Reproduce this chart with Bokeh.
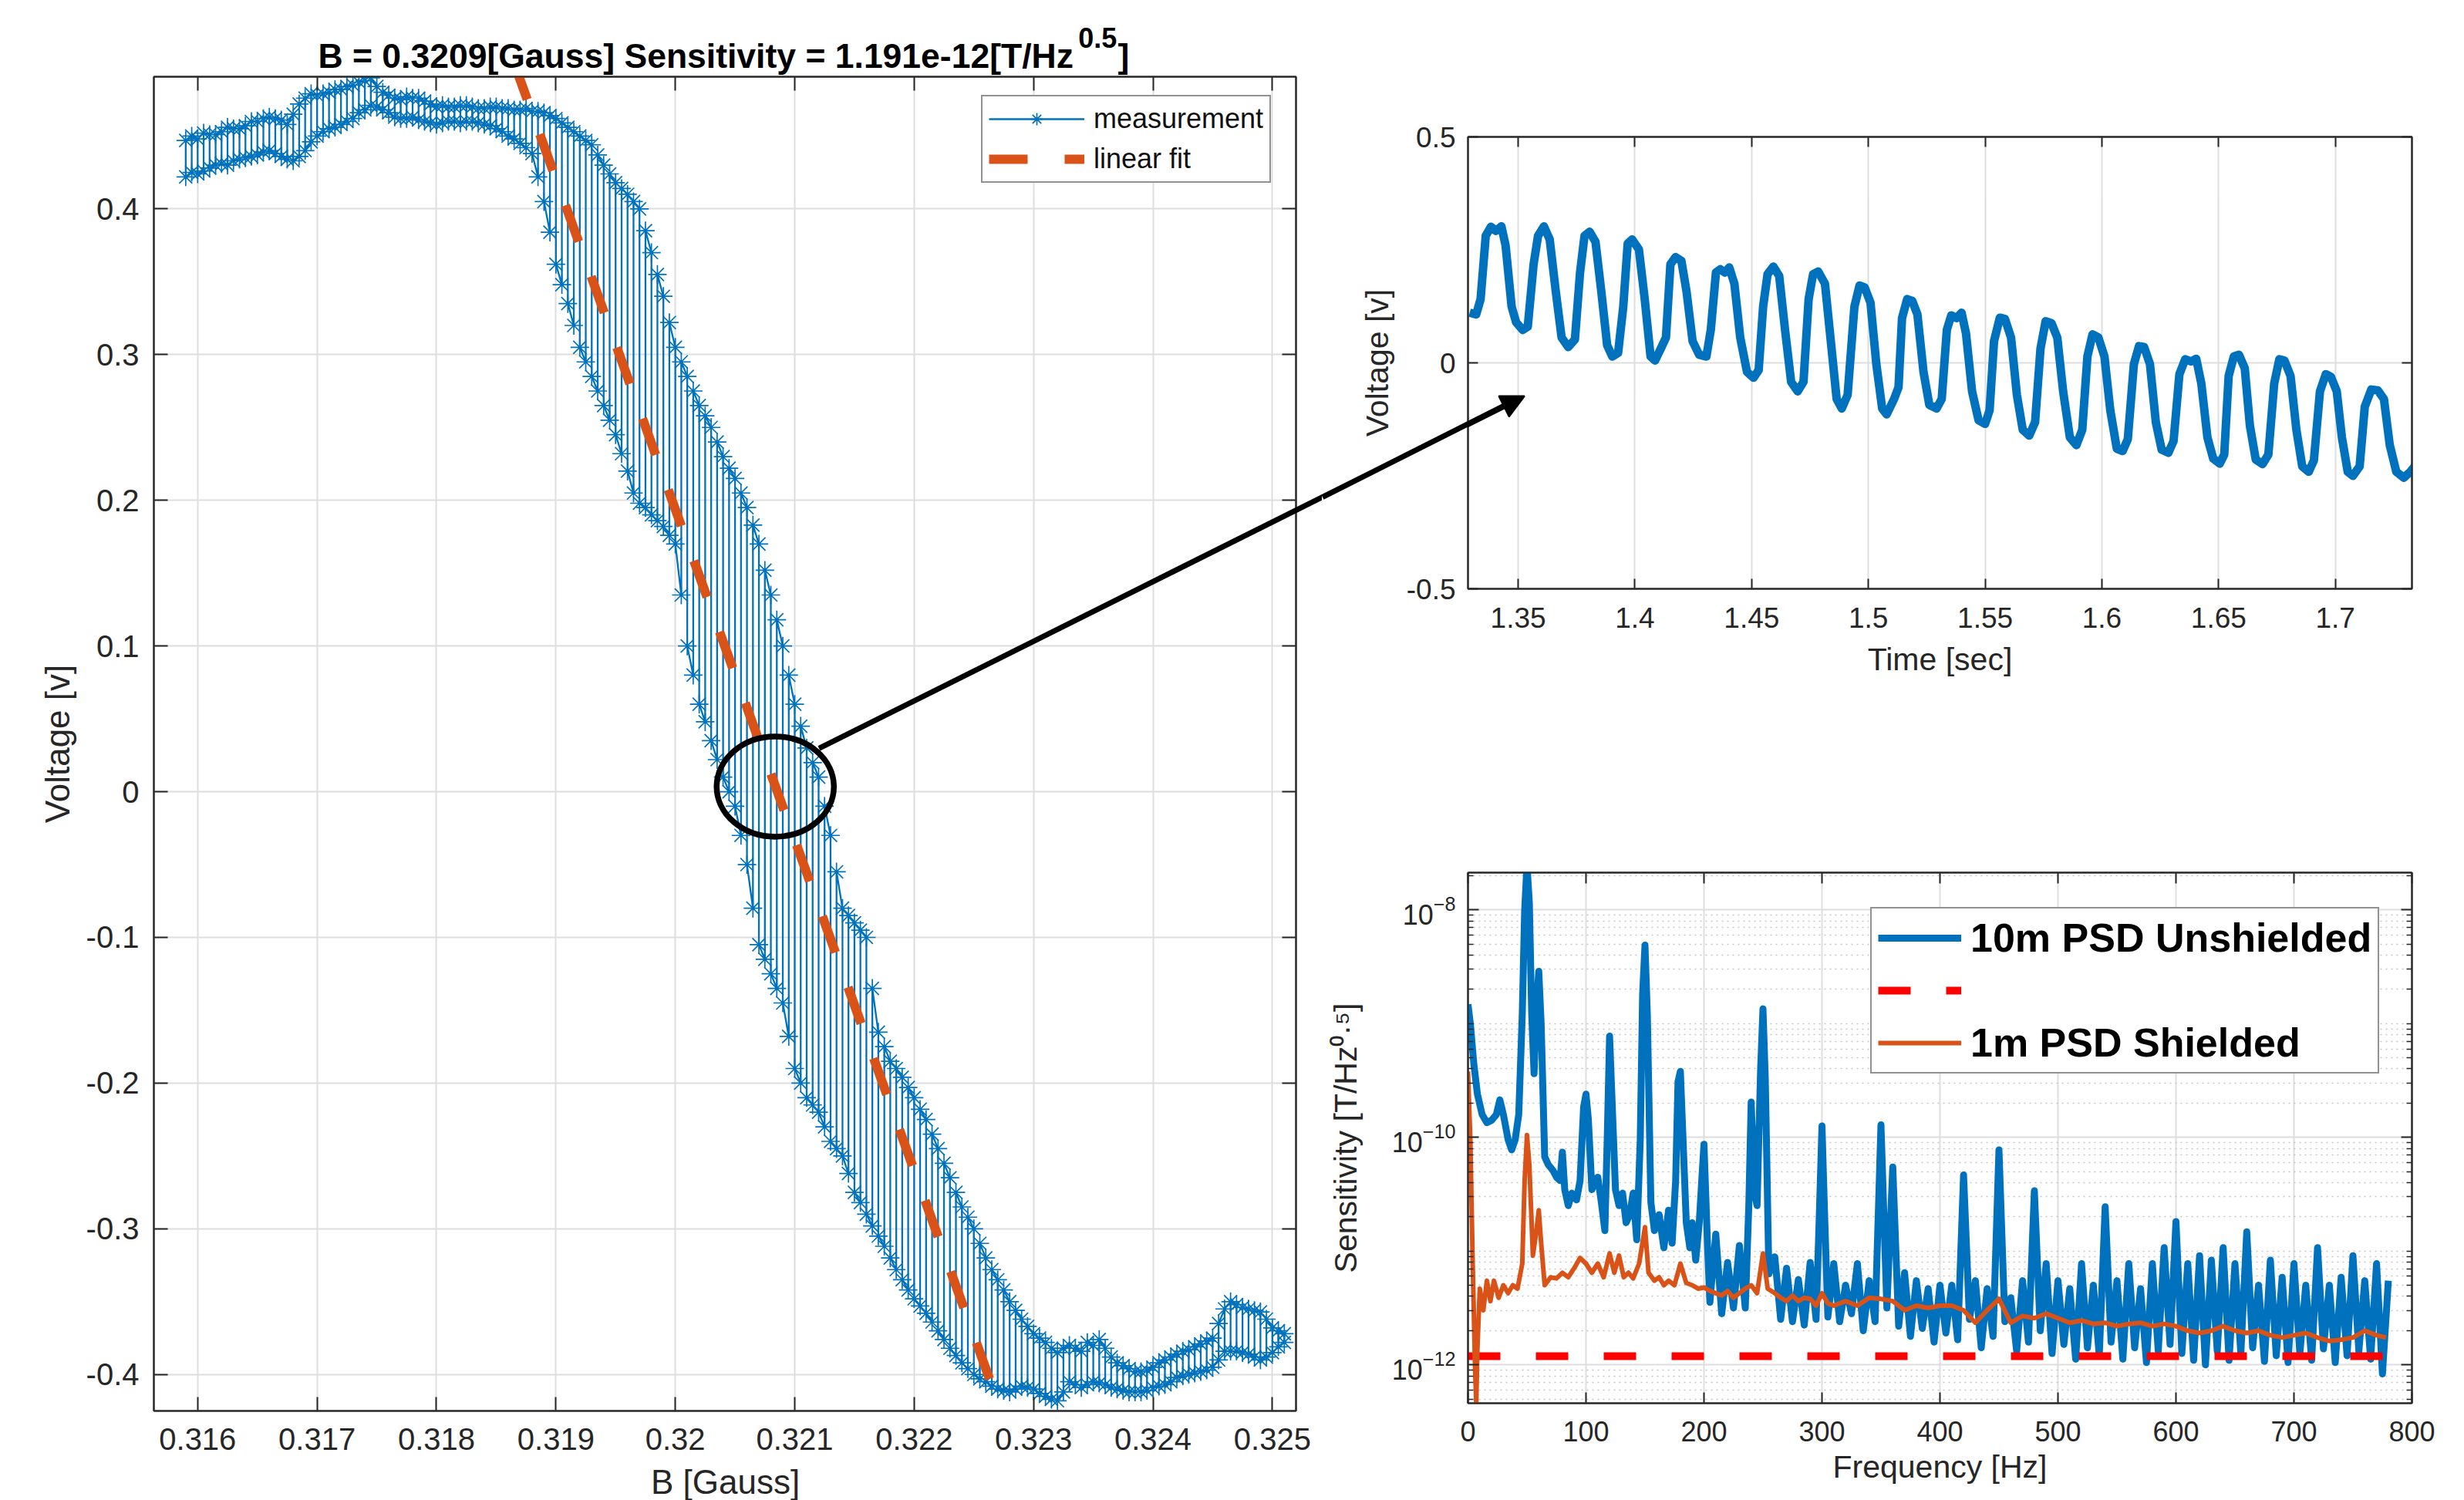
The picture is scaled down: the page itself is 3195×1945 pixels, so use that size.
import numpy as np
from bokeh.plotting import figure
from bokeh.models import (Range1d, LinearAxis, LogAxis, FixedTicker, Arrow,
                          NormalHead, Legend, LegendItem)
from bokeh.layouts import row, column
from bokeh.embed import file_html
from bokeh.resources import INLINE
from bokeh.core.properties import value

FONT = "Liberation Sans"
AXC = "#262626"
GRIDC = "#dedede"
BLUE = "#0072BD"
ORANGE = "#D95319"
RED = "#FF0000"

# ---------------- data: left panel (voltage vs B sweep) ----------------
b_gauss = [
    0.31590, 0.31595, 0.31600, 0.31605, 0.31610, 0.31615, 0.31620, 0.31625, 0.31630, 0.31635,
    0.31640, 0.31645, 0.31650, 0.31655, 0.31660, 0.31665, 0.31670, 0.31675, 0.31680, 0.31685,
    0.31690, 0.31695, 0.31700, 0.31705, 0.31710, 0.31715, 0.31720, 0.31725, 0.31730, 0.31735,
    0.31740, 0.31745, 0.31750, 0.31755, 0.31760, 0.31765, 0.31770, 0.31775, 0.31780, 0.31785,
    0.31790, 0.31795, 0.31800, 0.31805, 0.31810, 0.31815, 0.31820, 0.31825, 0.31830, 0.31835,
    0.31840, 0.31845, 0.31850, 0.31855, 0.31860, 0.31865, 0.31870, 0.31875, 0.31880, 0.31885,
    0.31890, 0.31895, 0.31900, 0.31905, 0.31910, 0.31915, 0.31920, 0.31925, 0.31930, 0.31935,
    0.31940, 0.31945, 0.31950, 0.31955, 0.31960, 0.31965, 0.31970, 0.31975, 0.31980, 0.31985,
    0.31990, 0.31995, 0.32000, 0.32005, 0.32010, 0.32015, 0.32020, 0.32025, 0.32030, 0.32035,
    0.32040, 0.32045, 0.32050, 0.32055, 0.32060, 0.32065, 0.32070, 0.32075, 0.32080, 0.32085,
    0.32090, 0.32095, 0.32100, 0.32105, 0.32110, 0.32115, 0.32120, 0.32125, 0.32130, 0.32135,
    0.32140, 0.32145, 0.32150, 0.32155, 0.32160, 0.32165, 0.32170, 0.32175, 0.32180, 0.32185,
    0.32190, 0.32195, 0.32200, 0.32205, 0.32210, 0.32215, 0.32220, 0.32225, 0.32230, 0.32235,
    0.32240, 0.32245, 0.32250, 0.32255, 0.32260, 0.32265, 0.32270, 0.32275, 0.32280, 0.32285,
    0.32290, 0.32295, 0.32300, 0.32305, 0.32310, 0.32315, 0.32320, 0.32325, 0.32330, 0.32335,
    0.32340, 0.32345, 0.32350, 0.32355, 0.32360, 0.32365, 0.32370, 0.32375, 0.32380, 0.32385,
    0.32390, 0.32395, 0.32400, 0.32405, 0.32410, 0.32415, 0.32420, 0.32425, 0.32430, 0.32435,
    0.32440, 0.32445, 0.32450, 0.32455, 0.32460, 0.32465, 0.32470, 0.32475, 0.32480, 0.32485,
    0.32490, 0.32495, 0.32500, 0.32505, 0.32510]
v_top = [
    0.447, 0.450, 0.448, 0.452, 0.451, 0.451, 0.453, 0.456, 0.455, 0.455,
    0.457, 0.460, 0.460, 0.462, 0.463, 0.462, 0.461, 0.458, 0.465, 0.472,
    0.476, 0.479, 0.478, 0.479, 0.480, 0.482, 0.482, 0.484, 0.485, 0.487,
    0.488, 0.490, 0.484, 0.480, 0.478, 0.476, 0.475, 0.477, 0.476, 0.476,
    0.474, 0.472, 0.470, 0.471, 0.470, 0.470, 0.471, 0.471, 0.470, 0.469,
    0.469, 0.470, 0.470, 0.469, 0.469, 0.468, 0.468, 0.469, 0.467, 0.467,
    0.466, 0.464, 0.462, 0.459, 0.456, 0.453, 0.450, 0.447, 0.444, 0.437,
    0.430, 0.424, 0.418, 0.414, 0.410, 0.405, 0.400, 0.385, 0.370, 0.355,
    0.340, 0.322, 0.305, 0.295, 0.285, 0.275, 0.265, 0.258, 0.250, 0.240,
    0.230, 0.222, 0.215, 0.205, 0.195, 0.183, 0.170, 0.152, 0.135, 0.118,
    0.100, 0.080, 0.060, 0.045, 0.030, 0.020, 0.010, -0.010, -0.030, -0.055,
    -0.080, -0.085, -0.090, -0.095, -0.100, -0.135, -0.165, -0.175, -0.185, -0.190,
    -0.196, -0.203, -0.210, -0.218, -0.225, -0.235, -0.245, -0.255, -0.265, -0.275,
    -0.285, -0.292, -0.300, -0.310, -0.320, -0.328, -0.335, -0.342, -0.350, -0.356,
    -0.362, -0.367, -0.372, -0.375, -0.378, -0.382, -0.385, -0.382, -0.380, -0.382,
    -0.384, -0.378, -0.380, -0.376, -0.382, -0.388, -0.392, -0.394, -0.396, -0.398,
    -0.398, -0.397, -0.395, -0.392, -0.390, -0.388, -0.386, -0.384, -0.383, -0.381,
    -0.379, -0.377, -0.375, -0.365, -0.355, -0.350, -0.352, -0.354, -0.355, -0.356,
    -0.357, -0.362, -0.368, -0.370, -0.372]
v_bot = [
    0.422, 0.425, 0.424, 0.426, 0.428, 0.430, 0.431, 0.430, 0.433, 0.434,
    0.435, 0.436, 0.437, 0.439, 0.440, 0.438, 0.436, 0.434, 0.433, 0.436,
    0.440, 0.446, 0.450, 0.453, 0.455, 0.456, 0.458, 0.460, 0.462, 0.466,
    0.468, 0.471, 0.470, 0.468, 0.466, 0.463, 0.462, 0.462, 0.463, 0.461,
    0.460, 0.459, 0.458, 0.459, 0.460, 0.460, 0.459, 0.460, 0.460, 0.459,
    0.458, 0.457, 0.455, 0.453, 0.450, 0.448, 0.445, 0.442, 0.438, 0.422,
    0.405, 0.384, 0.362, 0.348, 0.335, 0.320, 0.305, 0.295, 0.285, 0.275,
    0.265, 0.255, 0.245, 0.232, 0.220, 0.205, 0.198, 0.195, 0.190, 0.186,
    0.182, 0.176, 0.170, 0.135, 0.100, 0.080, 0.060, 0.048, 0.035, 0.022,
    0.010, 0.000, -0.010, -0.030, -0.050, -0.080, -0.105, -0.115, -0.125, -0.135,
    -0.145, -0.168, -0.190, -0.200, -0.210, -0.215, -0.220, -0.230, -0.240, -0.245,
    -0.250, -0.262, -0.275, -0.282, -0.290, -0.298, -0.305, -0.312, -0.320, -0.328,
    -0.335, -0.342, -0.348, -0.353, -0.358, -0.364, -0.370, -0.376, -0.382, -0.387,
    -0.392, -0.396, -0.400, -0.403, -0.405, -0.408, -0.410, -0.411, -0.412, -0.410,
    -0.408, -0.409, -0.410, -0.413, -0.415, -0.417, -0.418, -0.412, -0.405, -0.407,
    -0.409, -0.407, -0.405, -0.406, -0.407, -0.409, -0.410, -0.411, -0.412, -0.412,
    -0.412, -0.411, -0.409, -0.408, -0.407, -0.405, -0.402, -0.401, -0.400, -0.399,
    -0.398, -0.397, -0.395, -0.390, -0.384, -0.384, -0.384, -0.385, -0.386, -0.388,
    -0.390, -0.388, -0.385, -0.381, -0.378]
fit_b = [0.31865, 0.32264]
fit_v = [0.500, -0.405]
b_ticks = [0.316, 0.317, 0.318, 0.319, 0.32, 0.321, 0.322, 0.323, 0.324, 0.325]
b_tick_labels = ["0.316", "0.317", "0.318", "0.319", "0.32", "0.321", "0.322", "0.323", "0.324", "0.325"]
v_ticks = [-0.4, -0.3, -0.2, -0.1, 0, 0.1, 0.2, 0.3, 0.4]
v_tick_labels = ["-0.4", "-0.3", "-0.2", "-0.1", "0", "0.1", "0.2", "0.3", "0.4"]
title_main = "B = 0.3209[Gauss] Sensitivity = 1.191e-12[T/Hz"
title_sup = "0.5"
title_end = "]"

# ---------------- data: top-right panel (voltage vs time) ----------------
time_sec = [1.3292, 1.3320, 1.3339, 1.3361, 1.3383, 1.3405, 1.3428, 1.3446, 1.3472, 1.3491,
            1.3519, 1.3541, 1.3566, 1.3585, 1.3610, 1.3635, 1.3661, 1.3686, 1.3714, 1.3743,
            1.3765, 1.3784, 1.3806, 1.3831, 1.3856, 1.3881, 1.3903, 1.3928, 1.3950, 1.3969,
            1.3988, 1.4017, 1.4042, 1.4067, 1.4086, 1.4114, 1.4133, 1.4152, 1.4174, 1.4199,
            1.4221, 1.4247, 1.4275, 1.4306, 1.4325, 1.4347, 1.4366, 1.4385, 1.4404, 1.4426,
            1.4451, 1.4480, 1.4508, 1.4530, 1.4549, 1.4568, 1.4593, 1.4618, 1.4643, 1.4669,
            1.4697, 1.4722, 1.4744, 1.4763, 1.4785, 1.4814, 1.4839, 1.4864, 1.4886, 1.4911,
            1.4940, 1.4962, 1.4984, 1.5009, 1.5034, 1.5059, 1.5078, 1.5110, 1.5129, 1.5144,
            1.5166, 1.5188, 1.5210, 1.5236, 1.5261, 1.5292, 1.5314, 1.5336, 1.5355, 1.5377,
            1.5399, 1.5418, 1.5444, 1.5472, 1.5500, 1.5519, 1.5538, 1.5563, 1.5585, 1.5611,
            1.5636, 1.5661, 1.5689, 1.5714, 1.5737, 1.5759, 1.5784, 1.5809, 1.5834, 1.5863,
            1.5891, 1.5916, 1.5938, 1.5960, 1.5985, 1.6011, 1.6036, 1.6064, 1.6089, 1.6111,
            1.6137, 1.6159, 1.6181, 1.6206, 1.6231, 1.6256, 1.6285, 1.6307, 1.6332, 1.6357,
            1.6382, 1.6404, 1.6426, 1.6452, 1.6477, 1.6505, 1.6524, 1.6543, 1.6565, 1.6587,
            1.6612, 1.6634, 1.6659, 1.6688, 1.6713, 1.6738, 1.6760, 1.6782, 1.6808, 1.6833,
            1.6858, 1.6886, 1.6908, 1.6934, 1.6959, 1.6981, 1.7006, 1.7028, 1.7053, 1.7075,
            1.7104, 1.7126, 1.7154, 1.7182, 1.7208, 1.7233, 1.7261, 1.7293, 1.7321, 1.7340]
time_volt = [0.111, 0.107, 0.141, 0.281, 0.301, 0.292, 0.302, 0.260, 0.124, 0.090,
             0.073, 0.080, 0.218, 0.281, 0.302, 0.273, 0.158, 0.056, 0.035, 0.052,
             0.200, 0.281, 0.290, 0.268, 0.158, 0.039, 0.014, 0.022, 0.124, 0.264,
             0.273, 0.251, 0.141, 0.014, 0.005, 0.035, 0.056, 0.218, 0.234, 0.226,
             0.158, 0.048, 0.018, 0.014, 0.073, 0.200, 0.207, 0.200, 0.211, 0.175,
             0.056, -0.020, -0.033, -0.016, 0.124, 0.196, 0.213, 0.192, 0.073, -0.042,
             -0.063, -0.042, 0.141, 0.196, 0.202, 0.175, 0.048, -0.080, -0.101, -0.071,
             0.124, 0.171, 0.167, 0.133, -0.003, -0.101, -0.114, -0.080, -0.054, 0.099,
             0.141, 0.137, 0.107, -0.020, -0.093, -0.101, -0.080, 0.073, 0.105, 0.099,
             0.111, 0.065, -0.063, -0.127, -0.135, -0.105, 0.048, 0.100, 0.097, 0.056,
             -0.071, -0.148, -0.161, -0.131, 0.031, 0.092, 0.088, 0.056, -0.063, -0.165,
             -0.182, -0.148, 0.014, 0.063, 0.056, 0.014, -0.105, -0.190, -0.195, -0.169,
             -0.003, 0.037, 0.035, -0.003, -0.131, -0.192, -0.199, -0.173, -0.025, 0.008,
             0.003, 0.009, -0.046, -0.165, -0.212, -0.223, -0.203, -0.029, 0.014, 0.018,
             -0.012, -0.139, -0.214, -0.224, -0.203, -0.046, 0.008, 0.005, -0.029, -0.148,
             -0.229, -0.241, -0.216, -0.063, -0.025, -0.031, -0.063, -0.165, -0.241, -0.250,
             -0.229, -0.097, -0.059, -0.061, -0.080, -0.182, -0.241, -0.254, -0.241, -0.229]
t_ticks = [1.35, 1.4, 1.45, 1.5, 1.55, 1.6, 1.65, 1.7]
t_tick_labels = ["1.35", "1.4", "1.45", "1.5", "1.55", "1.6", "1.65", "1.7"]

# ---------------- data: bottom-right panel (PSD), log10 of T/Hz^0.5 ----------------
psd_unshielded = [
    (0, -8.83), (2, -9.00), (5, -9.36), (8, -9.62), (12, -9.80), (16, -9.87), (20, -9.85),
    (24, -9.80), (27, -9.67), (30, -9.80), (34, -10.02), (37, -10.11), (40, -10.02), (43, -9.80),
    (46, -8.92), (48, -8.01), (50, -7.60), (52, -7.94), (54, -8.92), (56, -9.44), (58, -8.85),
    (60, -8.54), (62, -9.00), (65, -10.17), (68, -10.24), (72, -10.29), (75, -10.35), (78, -10.38),
    (80, -10.13), (82, -10.46), (85, -10.60), (88, -10.49), (92, -10.55), (95, -10.38), (98, -9.73),
    (100, -9.62), (102, -9.84), (105, -10.46), (108, -10.38), (110, -10.35), (113, -10.57),
    (116, -10.82), (118, -10.02), (120, -9.11), (122, -9.65), (125, -10.46), (128, -10.60),
    (131, -10.49), (134, -10.75), (137, -10.68), (140, -10.49), (143, -10.90), (146, -10.02),
    (148, -8.74), (150, -8.31), (152, -8.92), (155, -10.57), (158, -10.82), (162, -10.68),
    (166, -10.97), (170, -10.64), (173, -10.93), (176, -10.38), (178, -9.51), (180, -9.42),
    (182, -9.95), (185, -10.75), (188, -10.97), (190, -10.75), (193, -11.08), (196, -10.75),
    (198, -10.40), (200, -10.06), (203, -10.95), (205, -11.45), (210, -10.85), (215, -11.55),
    (220, -11.10), (225, -11.50), (230, -10.95), (235, -11.50), (238, -10.60), (240, -9.69),
    (243, -10.50), (245, -10.60), (248, -9.40), (250, -8.87), (252, -9.50), (255, -11.20),
    (260, -11.05), (265, -11.60), (270, -11.15), (275, -11.62), (280, -11.25), (285, -11.65),
    (290, -11.10), (295, -11.60), (298, -10.60), (300, -9.90), (302, -10.60),
    (305, -11.58), (310, -11.11), (315, -11.62), (320, -11.30), (325, -11.55), (330, -11.11),
    (335, -11.70), (340, -11.26), (345, -11.62), (350, -9.89), (355, -11.50), (360, -10.26),
    (365, -11.66), (370, -11.19), (375, -11.75), (380, -11.26), (385, -11.68), (390, -11.33),
    (395, -11.80), (400, -11.30), (405, -11.72), (410, -11.30), (415, -11.78), (420, -10.33),
    (425, -11.60), (430, -11.26), (435, -11.85), (440, -11.33), (445, -11.75), (450, -10.11),
    (455, -11.62), (460, -11.41), (465, -11.88), (470, -11.26), (475, -11.80), (480, -10.47),
    (485, -11.70), (490, -11.11), (495, -11.90), (500, -11.26), (505, -11.82), (510, -11.33),
    (515, -11.95), (520, -11.11), (525, -11.85), (530, -11.30), (535, -11.92), (540, -10.61),
    (545, -11.80), (550, -11.26), (555, -11.95), (560, -11.11), (565, -11.85), (570, -11.33),
    (575, -11.98), (580, -11.11), (585, -11.88), (590, -10.97), (595, -11.82), (600, -10.74),
    (605, -11.90), (610, -11.11), (615, -11.96), (620, -11.04), (625, -12.00), (630, -11.08),
    (635, -11.88), (640, -10.97), (645, -11.96), (650, -11.11), (655, -11.90), (660, -10.83),
    (665, -11.85), (670, -11.30), (675, -11.97), (680, -11.08), (685, -11.92), (690, -11.23),
    (695, -11.98), (700, -11.11), (705, -11.90), (710, -11.30), (715, -11.96), (720, -10.97),
    (725, -11.86), (730, -11.30), (735, -11.98), (740, -11.23), (745, -11.92), (750, -11.04),
    (755, -11.88), (760, -11.26), (765, -11.95), (770, -11.11), (775, -12.08), (780, -11.26)]
psd_shielded = [
    (0, -9.42), (2, -10.02), (4, -11.11), (6, -12.03), (7, -12.34), (8, -11.85), (10, -11.33),
    (13, -11.52), (16, -11.26), (19, -11.44), (22, -11.26), (26, -11.41), (30, -11.30),
    (34, -11.37), (38, -11.30), (42, -11.33), (46, -11.11), (48, -10.38), (50, -9.98),
    (52, -10.24), (55, -11.04), (58, -10.82), (60, -10.64), (62, -10.93), (65, -11.30),
    (70, -11.23), (75, -11.24), (80, -11.19), (85, -11.23), (90, -11.15), (95, -11.06),
    (100, -11.11), (105, -11.19), (110, -11.11), (115, -11.23), (120, -11.02), (124, -11.19),
    (128, -11.04), (132, -11.23), (136, -11.19), (140, -11.24), (145, -11.11), (150, -10.79),
    (153, -11.19), (158, -11.26), (162, -11.23), (166, -11.30), (170, -11.26), (175, -11.30),
    (180, -11.11), (185, -11.28), (190, -11.30), (195, -11.33), (200, -11.32), (205, -11.35),
    (210, -11.37), (215, -11.39), (220, -11.35), (225, -11.41), (230, -11.37), (235, -11.33),
    (240, -11.30), (245, -11.37), (250, -11.02), (254, -11.33), (260, -11.37), (265, -11.41),
    (270, -11.44), (275, -11.39), (280, -11.44), (285, -11.41), (290, -11.42), (295, -11.48),
    (300, -11.37), (305, -11.46), (310, -11.48), (320, -11.44), (330, -11.48), (340, -11.41),
    (350, -11.42), (360, -11.44), (370, -11.52), (380, -11.48), (390, -11.50), (400, -11.48),
    (410, -11.48), (420, -11.52), (430, -11.63), (440, -11.52), (450, -11.42), (460, -11.63),
    (470, -11.57), (480, -11.59), (490, -11.55), (500, -11.59), (510, -11.63), (520, -11.61),
    (530, -11.64), (540, -11.63), (550, -11.66), (560, -11.64), (570, -11.63), (580, -11.66),
    (590, -11.64), (600, -11.66), (610, -11.70), (620, -11.72), (630, -11.70), (640, -11.66),
    (650, -11.70), (660, -11.72), (670, -11.70), (680, -11.74), (690, -11.76), (700, -11.74),
    (710, -11.72), (720, -11.76), (730, -11.79), (740, -11.78), (750, -11.76), (760, -11.70),
    (770, -11.74), (778, -11.76)]
sensitivity_level = 1.191e-12
sens_span = [0, 800]
f_ticks = [0, 100, 200, 300, 400, 500, 600, 700, 800]
log_major = [1e-12, 1e-10, 1e-8]


def style_axis(ax, tick_len, font_size, minor_len=0, standoff=15):
    ax.axis_line_color = AXC
    ax.axis_line_width = 2
    ax.major_tick_in = tick_len
    ax.major_tick_out = 0
    ax.minor_tick_in = minor_len
    ax.minor_tick_out = 0
    ax.major_tick_line_color = AXC
    ax.major_tick_line_width = 2
    ax.minor_tick_line_color = AXC
    ax.minor_tick_line_width = 1.5
    ax.major_label_text_font = FONT
    ax.major_label_text_color = AXC
    ax.major_label_text_font_size = font_size
    ax.major_label_standoff = standoff
    ax.axis_label_text_font = FONT
    ax.axis_label_text_font_style = "normal"
    ax.axis_label_text_color = AXC


def mirror_axes(p, xticks, yticks, tick_len, minor_len=0, log_y=False, yminor=None):
    top = LinearAxis(ticker=FixedTicker(ticks=xticks))
    style_axis(top, tick_len, "10px", 0, 0)
    top.major_label_overrides = {t: "" for t in xticks}
    p.add_layout(top, "above")
    yt = FixedTicker(ticks=yticks, minor_ticks=yminor or [])
    right = LogAxis(ticker=yt) if log_y else LinearAxis(ticker=yt)
    style_axis(right, tick_len, "10px", minor_len, 0)
    right.major_label_overrides = {t: "" for t in yticks}
    p.add_layout(right, "right")


def base_fig(**kw):
    p = figure(output_backend="svg", toolbar_location=None, **kw)
    p.background_fill_color = "white"
    p.border_fill_color = "white"
    p.outline_line_color = AXC
    p.outline_line_width = 2
    p.grid.grid_line_color = GRIDC
    p.grid.grid_line_width = 2
    return p


# ================= left panel =================
p1 = base_fig(width=1714, height=1945,
              x_range=Range1d(0.315633, 0.325198), y_range=Range1d(-0.4250, 0.4907),
              min_border_left=199, min_border_right=34, min_border_top=99, min_border_bottom=116)
p1.xaxis.ticker = FixedTicker(ticks=b_ticks)
p1.yaxis.ticker = FixedTicker(ticks=v_ticks)
p1.xaxis.major_label_overrides = dict(zip(b_ticks, b_tick_labels))
p1.yaxis.major_label_overrides = dict(zip(v_ticks, v_tick_labels))
style_axis(p1.xaxis[0], 18, "40px", standoff=22)
style_axis(p1.yaxis[0], 18, "40px", standoff=19)
p1.yaxis.axis_label = "Voltage [v]"
p1.yaxis.axis_label_text_font_size = "44px"
p1.yaxis.axis_label_standoff = 10
mirror_axes(p1, b_ticks, v_ticks, 18)

meas_b, meas_v = [], []
for i, b in enumerate(b_gauss):
    pair = (v_top[i], v_bot[i]) if i % 2 == 0 else (v_bot[i], v_top[i])
    meas_b += [b, b]
    meas_v += list(pair)

l_meas = p1.line(meas_b, meas_v, line_color=BLUE, line_width=2.3)
s_meas = p1.scatter(meas_b, meas_v, marker="asterisk", size=24, line_color=BLUE, line_width=1.7)
l_fit = p1.line(fit_b, fit_v, line_color=ORANGE, line_width=12, line_dash="50 48")

leg1 = Legend(items=[LegendItem(label="measurement", renderers=[l_meas, s_meas]),
                     LegendItem(label="linear fit", renderers=[l_fit])],
              location=(1073, 1592), margin=0, padding=8, spacing=10,
              glyph_width=124, glyph_height=40, label_height=40, label_standoff=12,
              label_text_font=FONT, label_text_font_size="36px", label_text_color="#111111",
              border_line_color=AXC, border_line_width=2,
              background_fill_color="white", background_fill_alpha=1.0)
p1.add_layout(leg1)

# title (with superscript) and x label, drawn as overlay text outside the frame
p1.text(x=[0.3170084, 0.3237053], y=[0.5052, 0.5052], text=[title_main, title_end],
        text_font=value(FONT), text_font_size=value("44.5px"), text_font_style="bold",
        text_color="#000000", text_align="left", text_baseline="alphabetic", level="overlay")
p1.text(x=[0.3233756], y=[0.51754], text=[title_sup],
        text_font=value(FONT), text_font_size=value("36px"), text_font_style="bold",
        text_color="#000000", text_align="left", text_baseline="alphabetic", level="overlay")
p1.text(x=[0.3204196], y=[-0.47375], text=["B [Gauss]"],
        text_font=value(FONT), text_font_size=value("44px"), text_color=AXC,
        text_align="center", text_baseline="alphabetic", level="overlay")

# zoom ellipse and first part of arrow
ell_b, ell_v = 0.320837, 0.0035
p1.ellipse(x=[ell_b], y=[ell_v], width=152, height=130, width_units="screen",
           height_units="screen", fill_color=None, line_color="black", line_width=7.5)
p1.line(x=[0.3212036, 0.3254247], y=[0.02976, 0.20241], line_color="black",
        line_width=7, level="overlay")

# ================= top-right panel =================
p2 = base_fig(width=1481, height=910,
              x_range=Range1d(1.3285, 1.7328), y_range=Range1d(-0.5, 0.5),
              min_border_left=189, min_border_right=68, min_border_top=177, min_border_bottom=147)
p2.xaxis.ticker = FixedTicker(ticks=t_ticks)
p2.yaxis.ticker = FixedTicker(ticks=[-0.5, 0, 0.5])
p2.xaxis.major_label_overrides = dict(zip(t_ticks, t_tick_labels))
p2.yaxis.major_label_overrides = {-0.5: "-0.5", 0: "0", 0.5: "0.5"}
style_axis(p2.xaxis[0], 13, "37px", standoff=24)
style_axis(p2.yaxis[0], 13, "37px", standoff=16)
p2.xaxis.axis_label = "Time [sec]"
p2.yaxis.axis_label = "Voltage [v]"
p2.xaxis.axis_label_text_font_size = "41px"
p2.yaxis.axis_label_text_font_size = "41px"
p2.xaxis.axis_label_standoff = 15
p2.yaxis.axis_label_standoff = 12
mirror_axes(p2, t_ticks, [-0.5, 0, 0.5], 13)
n_ts = min(len(time_sec), len(time_volt))
p2.line(time_sec[:n_ts], time_volt[:n_ts], line_color=BLUE, line_width=11, line_join="round")
p2.line(x=[1.26621, 1.3495], y=[-0.29706, -0.0806], line_color="black",
        line_width=7, level="overlay")
p2.add_layout(Arrow(end=NormalHead(size=30, fill_color="black", line_color="black", line_width=2),
                    x_start=1.26621, y_start=-0.29706, x_end=1.35274, y_end=-0.07345,
                    line_color="black", line_width=7))

# ================= bottom-right panel =================
p3 = base_fig(width=1481, height=1035, y_axis_type="log",
              x_range=Range1d(0, 800), y_range=Range1d(4.6e-13, 2.126e-8),
              min_border_left=159, min_border_right=58, min_border_top=221, min_border_bottom=126)
minor_list = []
for e in range(-13, -7):
    for k in range(1, 10):
        tick_val = k * 10.0 ** e
        if 4.6e-13 <= tick_val <= 2.126e-8 and not (k == 1 and e in (-12, -10, -8)):
            minor_list.append(tick_val)
p3.xaxis.ticker = FixedTicker(ticks=f_ticks)
p3.yaxis.ticker = FixedTicker(ticks=log_major, minor_ticks=minor_list)
style_axis(p3.xaxis[0], 14, "36px", standoff=23)
style_axis(p3.yaxis[0], 14, "36px", minor_len=7, standoff=16)
p3.xaxis.axis_label = "Frequency [Hz]"
p3.yaxis.axis_label = "Sensitivity [T/Hz\u2070\u00b7\u2075]"
p3.xaxis.axis_label_text_font_size = "41px"
p3.yaxis.axis_label_text_font_size = "41px"
p3.xaxis.axis_label_standoff = 7
p3.yaxis.axis_label_standoff = 34
p3.ygrid.minor_grid_line_color = "#c4c4c4"
p3.ygrid.minor_grid_line_dash = "2 5"
p3.ygrid.minor_grid_line_width = 1.5
mirror_axes(p3, f_ticks, log_major, 14, minor_len=7, log_y=True, yminor=minor_list)

uf = [a for a, _ in psd_unshielded]
uv = [10.0 ** b for _, b in psd_unshielded]
sf = [a for a, _ in psd_shielded]
sv = [10.0 ** b for _, b in psd_shielded]
r_blue = p3.line(uf, uv, line_color=BLUE, line_width=9, line_join="round")
r_red = p3.line(sens_span, [sensitivity_level, sensitivity_level], line_color=RED,
                line_width=10, line_dash="42 46")
r_orange = p3.line(sf, sv, line_color=ORANGE, line_width=6, line_join="round")

leg3 = Legend(items=[LegendItem(label="10m PSD Unshielded", renderers=[r_blue]),
                     LegendItem(label=" ", renderers=[r_red]),
                     LegendItem(label="1m PSD Shielded", renderers=[r_orange])],
              location=(522, 427), margin=0, padding=8, spacing=10,
              glyph_width=108, glyph_height=56, label_height=56, label_standoff=12,
              label_text_font=FONT, label_text_font_size="52px", label_text_font_style="bold",
              label_text_color="#000000",
              border_line_color=AXC, border_line_width=2,
              background_fill_color="white", background_fill_alpha=1.0)
p3.add_layout(leg3)

layout = row(p1, column(p2, p3))
open("out.html", "w").write(file_html(layout, INLINE))
